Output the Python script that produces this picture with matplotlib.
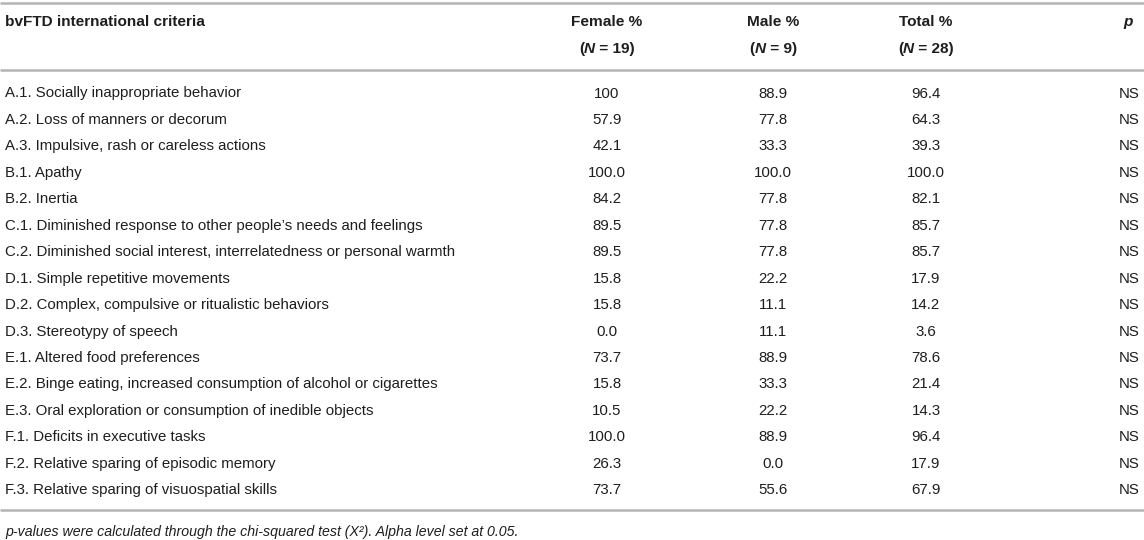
import matplotlib
matplotlib.use("Agg")
import matplotlib.pyplot as plt

# Table data
criteria = [
    "A.1. Socially inappropriate behavior",
    "A.2. Loss of manners or decorum",
    "A.3. Impulsive, rash or careless actions",
    "B.1. Apathy",
    "B.2. Inertia",
    "C.1. Diminished response to other people\u2019s needs and feelings",
    "C.2. Diminished social interest, interrelatedness or personal warmth",
    "D.1. Simple repetitive movements",
    "D.2. Complex, compulsive or ritualistic behaviors",
    "D.3. Stereotypy of speech",
    "E.1. Altered food preferences",
    "E.2. Binge eating, increased consumption of alcohol or cigarettes",
    "E.3. Oral exploration or consumption of inedible objects",
    "F.1. Deficits in executive tasks",
    "F.2. Relative sparing of episodic memory",
    "F.3. Relative sparing of visuospatial skills",
]
female = ["100", "57.9", "42.1", "100.0", "84.2", "89.5", "89.5", "15.8",
          "15.8", "0.0", "73.7", "15.8", "10.5", "100.0", "26.3", "73.7"]
male = ["88.9", "77.8", "33.3", "100.0", "77.8", "77.8", "77.8", "22.2",
        "11.1", "11.1", "88.9", "33.3", "22.2", "88.9", "0.0", "55.6"]
total = ["96.4", "64.3", "39.3", "100.0", "82.1", "85.7", "85.7", "17.9",
         "14.2", "3.6", "78.6", "21.4", "14.3", "96.4", "17.9", "67.9"]
pvals = ["NS"] * 16

col_heads = [("Female %", "19"), ("Male %", "9"), ("Total %", "28")]

FONT = "Liberation Sans"
FS = 10.85
HFS = 11.1
NFS = 10.15
TXT = "#1e1e1e"
LINE = "#b4b4b4"

fig = plt.figure(figsize=(11.44, 5.40), dpi=100)
ax = fig.add_axes([0, 0, 1, 1])
ax.set_xlim(0, 1144)
ax.set_ylim(540, 0)
ax.axis("off")
renderer = fig.canvas.get_renderer()


def pieces_centered(x, y, parts, size):
    # parts: list of (text, weight, style); draw them side by side centered at x
    widths = []
    objs = []
    for s, w, st in parts:
        t = ax.text(0, y, s, fontsize=size, family=FONT, weight=w, style=st,
                    color=TXT, va="center", ha="left")
        bb = t.get_window_extent(renderer=renderer)
        widths.append(bb.width)
        objs.append(t)
    x0 = x - sum(widths) / 2
    for t, wd in zip(objs, widths):
        t.set_x(x0)
        x0 += wd


col_x = [607, 773, 926]
p_x = 1119

# rules
for yy in (3, 70, 510):
    ax.plot([0, 1144], [yy, yy], color=LINE, lw=1.8, solid_capstyle="butt")

# header
ax.text(5, 22, "bvFTD international criteria", fontsize=HFS, family=FONT,
        weight="bold", color=TXT, va="center")
for cx, (name, n) in zip(col_x, col_heads):
    ax.text(cx, 22, name, fontsize=HFS, family=FONT, weight="bold", color=TXT,
            va="center", ha="center")
    pieces_centered(cx, 49, [("(", "bold", "normal"), ("N", "bold", "italic"),
                             (" = " + n + ")", "bold", "normal")], HFS)
ax.text(1128, 22, "p", fontsize=HFS, family=FONT, weight="bold", style="italic",
        color=TXT, va="center", ha="center")

# body rows
y0 = 93.5
dy = 26.45
for i, name in enumerate(criteria):
    y = y0 + i * dy
    ax.text(5, y, name, fontsize=FS, family=FONT, color=TXT, va="center")
    for cx, vals in zip(col_x, (female, male, total)):
        ax.text(cx, y, vals[i], fontsize=FS, family=FONT, color=TXT,
                va="center", ha="center")
    ax.text(p_x, y, pvals[i], fontsize=FS, family=FONT, color=TXT,
            va="center", ha="left")

# footnote
ax.text(5, 532, "p-values were calculated through the chi-squared test (X\u00b2). "
        "Alpha level set at 0.05.", fontsize=NFS, family=FONT,
        style="italic", color=TXT, va="center")

fig.savefig("out.png", dpi=100)
